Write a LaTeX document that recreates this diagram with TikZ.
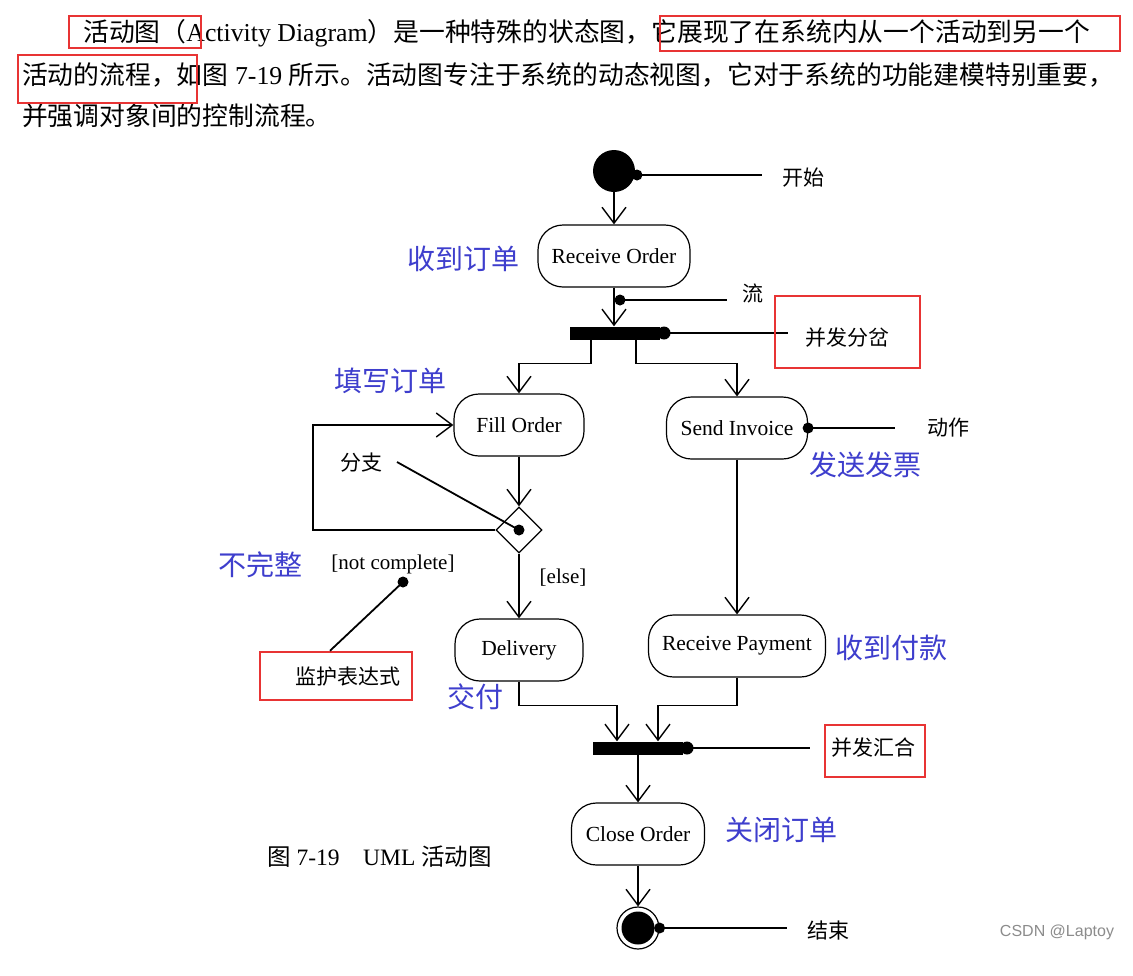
\documentclass[tikz,border=0pt]{standalone}
\usepackage{fontspec}
\setmainfont{Liberation Serif}
\newfontfamily\cjk{Noto Sans CJK SC}
\newfontfamily\wmfont{Liberation Sans}
\usetikzlibrary{arrows.meta}
\usetikzlibrary{shapes.geometric}

\definecolor{noteblue}{RGB}{62,62,205}
\definecolor{markred}{RGB}{232,52,52}

\tikzset{
  activity/.style={draw, line width=1.2pt, rounded corners=25pt, minimum height=62pt,
    inner sep=0pt, font=\fontsize{21.5}{24}\selectfont},
  flow/.style={line width=1.4pt, -{Straight Barb[length=16pt,width=24pt]}},
  bar/.style={fill=black, minimum height=13pt, inner sep=0pt},
  pointer/.style={line width=1.8pt},
  note/.style={inner sep=0pt, font=\cjk\fontsize{21}{24}\selectfont},
  bluenote/.style={inner sep=0pt, text=noteblue, font=\cjk\fontsize{28}{32}\selectfont},
  para/.style={inner sep=0pt, anchor=west, font=\fontsize{25.8}{30}\selectfont},
  markbox/.style={draw=markred, line width=2.5pt},
}

\begin{document}
\begin{tikzpicture}[x=1pt, y=-1pt]
    \useasboundingbox[fill=white] (0,0) rectangle (1133,975);

    % paragraph above the figure
    \node[para] (para1) at (83,33) {{\cjk 活动图（}Activity Diagram{\cjk ）是一种特殊的状态图，它展现了在系统内从一个活动到另一个}};
    \node[para] (para2) at (22,75) {{\cjk 活动的流程，如图} 7-19 {\cjk 所示。活动图专注于系统的动态视图，它对于系统的功能建模特别重要，}};
    \node[para] (para3) at (22,116) {{\cjk 并强调对象间的控制流程。}};
    \draw[markbox] (69,16) rectangle (201,48);
    \draw[markbox] (660,16) rectangle (1120,51);
    \draw[markbox] (18,55) rectangle (197,103);

    % start
    \node[circle, fill=black, minimum size=42pt, inner sep=0pt] (start) at (614,171) {};
    \coordinate (startdot) at (637,175);
    \coordinate (startend) at (762,175);
    \fill (startdot) circle (5.5pt);
    \draw[pointer] (startdot) -- (startend);
    \node[note, anchor=west] (startlbl) at (782,178) {开始};

    % receive order and fork
    \node[activity, minimum width=152pt] (recv) at (614,256) {Receive Order};
    \node[bluenote] (recvlbl) at (463,259) {收到订单};
    \draw[flow] (start) -- (recv);

    \node[bar, minimum width=90pt] (fork) at (615,333) {};
    \draw[flow] (recv.south) -- (recv.south |- fork.north);
    \coordinate (flowdot) at (620,300);
    \coordinate (flowend) at (727,300);
    \fill (flowdot) circle (5.5pt);
    \draw[pointer] (flowdot) -- (flowend);
    \node[note, anchor=west] (flowlbl) at (742,293) {流};

    \coordinate (forkdot) at (664,333);
    \coordinate (forkend) at (788,333);
    \fill (forkdot) circle (6.5pt);
    \draw[pointer] (forkdot) -- (forkend);
    \draw[markbox] (775,296) rectangle (920,368);
    \node[note] (forklbl) at (847,338) {并发分岔};

    % fill order and send invoice
    \node[activity, minimum width=130pt] (fill) at (519,425) {Fill Order};
    \node[bluenote] (filllbl) at (390,381) {填写订单};
    \node[activity, minimum width=141pt] (send) at (737,428) {Send Invoice};
    \node[bluenote] (sendlbl) at (865,465) {发送发票};
    \draw[flow] ([xshift=-24pt]fork.south) -- ++(0,24) -| (fill.north);
    \draw[flow] ([xshift=21pt]fork.south) -- ++(0,24) -| (send.north);

    \coordinate (actend) at (895,428);
    \fill (send.east) circle (5.5pt);
    \draw[pointer] (send.east) -- (actend);
    \node[note, anchor=west] (actlbl) at (927,428) {动作};

    % decision with loop back
    \node[diamond, draw, line width=1.2pt, minimum size=46pt, inner sep=0pt] (dec) at (519,530) {};
    \draw[flow] (fill) -- (dec);
    \coordinate (loopleft) at (313,530);
    \draw[flow] (dec.west) -- (loopleft) |- (fill.west);

    \node[note] (branchlbl) at (361,463) {分支};
    \coordinate (branchend) at (397,462);
    \fill (dec.center) circle (5.5pt);
    \draw[pointer] (branchend) -- (dec.center);

    \node[bluenote] (notlbl) at (260,565) {不完整};
    \node[inner sep=0pt, font=\fontsize{21}{24}\selectfont] (notcomp) at (393,564) {[not complete]};
    \node[inner sep=0pt, font=\fontsize{21}{24}\selectfont] (elselbl) at (563,578) {[else]};

    \coordinate (guarddot) at (403,582);
    \fill (guarddot) circle (5.5pt);
    \node[markbox, minimum width=152pt, minimum height=48pt, inner sep=0pt] (guardbox) at (336,676) {};
    \node[note] (guardlbl) at (348,677) {监护表达式};
    \draw[pointer] (guarddot) -- ([xshift=-6pt]guardbox.north);

    % delivery and payment
    \node[activity, minimum width=128pt] (deliv) at (519,650) {Delivery};
    \node[bluenote] (delivlbl) at (475,697) {交付};
    \draw[flow] (dec) -- (deliv);
    \node[activity, minimum width=177pt] (pay) at (737,646) {Receive Payment};
    \node[bluenote] (paylbl) at (891,648) {收到付款};
    \draw[flow] (send) -- (pay);

    % join
    \node[bar, minimum width=90pt] (join) at (638,748) {};
    \draw[flow] (deliv.south) -- ++(0,24) -| ([xshift=-21pt]join.north);
    \draw[flow] (pay.south) -- ++(0,28) -| ([xshift=20pt]join.north);
    \coordinate (joindot) at (687,748);
    \coordinate (joinend) at (810,748);
    \fill (joindot) circle (6.5pt);
    \draw[pointer] (joindot) -- (joinend);
    \draw[markbox] (825,725) rectangle (925,777);
    \node[note] (joinlbl) at (873,748) {并发汇合};

    % close order and end
    \node[activity, minimum width=133pt] (close) at (638,834) {Close Order};
    \node[bluenote] (closelbl) at (781,830) {关闭订单};
    \draw[flow] (join) -- (close);

    \node[circle, draw, line width=1.2pt, minimum size=42pt, inner sep=0pt] (final) at (638,928) {};
    \fill (final.center) circle (16.5pt);
    \draw[flow] (close) -- (final);
    \coordinate (finalend) at (787,928);
    \fill (final.east) circle (5.5pt);
    \draw[pointer] (final.east) -- (finalend);
    \node[note, anchor=west] (finallbl) at (807,930) {结束};

    % caption and watermark
    \node[inner sep=0pt, anchor=west, font=\fontsize{23.5}{26}\selectfont] (caption) at (267,857)
        {{\cjk 图} 7-19\quad UML {\cjk 活动图}};
    \node[inner sep=0pt, text=black!45, font=\wmfont\fontsize{16}{18}\selectfont] (wm) at (1057,932) {CSDN @Laptoy};
\end{tikzpicture}
\end{document}
